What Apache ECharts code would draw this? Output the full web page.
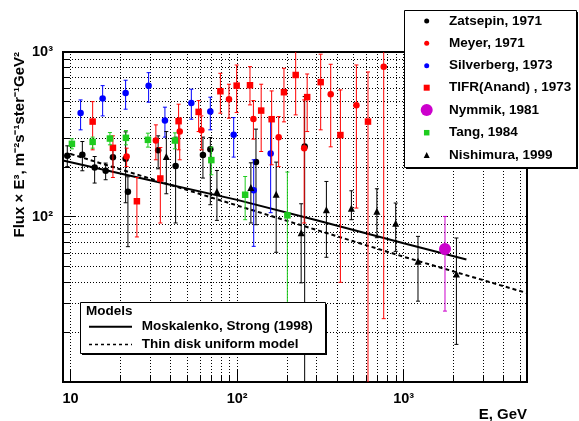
<!DOCTYPE html>
<html>
<head>
<meta charset="utf-8">
<script src="https://cdn.jsdelivr.net/npm/echarts@6/dist/echarts.min.js"></script>
<style>
html, body { margin: 0; padding: 0; background: #fff; }
#chart { width: 579px; height: 421px; }
</style>
</head>
<body>
<div id="chart"></div>
<script>
// axis ranges
const X_MIN = 9
const X_MAX = 5500
const Y_MIN = 10
const Y_MAX = 1000

// grid / tick values
const xGridValues = [10, 20, 30, 40, 50, 60, 70, 80, 90, 100, 200, 300, 400, 500, 600, 700, 800, 900, 1000, 2000, 3000, 4000, 5000]
const yGridValues = [20, 30, 40, 50, 60, 70, 80, 90, 100, 200, 300, 400, 500, 600, 700, 800, 900]
const xMajorTicks = [10, 100, 1000]
const yMajorTicks = [100, 1000]

// data rows: [E (GeV), flux x E^3, lower error, upper error]
const zatsepin = [
  [9.55, 235, 202, 270], [11.76, 238, 190.6, 286.7], [13.94, 199.6, 160.6, 232.6],
  [16.23, 190.6, 168.2, 212.2], [17.95, 230, 201.4, 262.5], [21.39, 225.3, 122, 328],
  [22.08, 142.2, 66.1, 175.3], [33.54, 254.2, 196, 310.3], [42.7, 203.4, 92, 304.8],
  [62.3, 237.2, 172.2, 304.8], [69.0, 257.8, 118.7, 303.1], [129.7, 215.1, 89.8, 340.8],
  [254.3, 267.4, 1, 536.6]
]
const meyer = [
  [21.69, 232.6, 202, 261.4], [32.5, 290.7, 222.2, 361.7], [45.2, 329.5, 222.2, 398.7],
  [60.95, 336, 255.3, 410], [89.3, 517.5, 397, 637.7], [125.2, 393.2, 296.5, 507.5],
  [177.5, 304.8, 202, 406], [252.6, 260.7, 92, 512.4], [364.5, 554.8, 266.3, 842.5],
  [519.9, 476, 113.3, 834.3], [758.6, 814.7, 24.2, 1100]
]
const silverberg = [
  [11.48, 427.6, 337.5, 512.4], [15.57, 521.9, 410, 625.4], [21.39, 564.9, 450.2, 674.2],
  [29.4, 625.4, 496.3, 749.5], [36.84, 384.1, 304.8, 463], [53.07, 491.5, 391.5, 594.9],
  [69.0, 435.4, 337.5, 532.1], [95.3, 314.7, 230.7, 400.4], [125.7, 145.3, 66.4, 222.2],
  [158.9, 242.6, 106.2, 393.2]
]
const tifr = [
  [13.56, 378.7, 255.3, 500.4], [17.95, 262.5, 173.6, 310.3], [25.0, 124.6, 75.7, 173.6],
  [34.57, 171.2, 92, 263.7], [44.5, 380.9, 255.3, 482.6], [58.7, 433.5, 329.5, 507.5],
  [79.3, 578.5, 425.8, 743], [99.3, 625.4, 429.4, 834], [119.4, 628.9, 478, 814.7],
  [139.4, 441.5, 249.4, 637.7], [161.1, 391.5, 207.2, 580.9], [191, 570.5, 377.2, 796.8],
  [224.6, 725.6, 415.8, 1100], [263.3, 532.9, 329.5, 735.8], [317.3, 656.6, 337.5, 969.8],
  [416.8, 313.8, 40.2, 589], [610.4, 378.7, 1, 756.8]
]
const nymmik = [
  [1770, 64.0, 26.9, 100.8]
]
const tang = [
  [10.18, 277.6, 258.9, 297.7], [13.56, 285.4, 261.4, 304.8], [17.22, 298.9, 273.8, 324.9],
  [21.48, 301.8, 273.8, 334.1], [29.12, 293.5, 265.2, 322.2], [42.3, 290.7, 258.9, 323.6],
  [69.98, 221.3, 180.3, 265.2], [111.7, 136.4, 96.3, 176.0], [200.2, 102.3, 23.9, 187.2]
]
const nishimura = [
  [37.56, 232.3, 138.3, 329.5], [75.6, 142.8, 95.4, 191.4], [120.9, 151.1, 92, 213.1],
  [171.5, 137.4, 61.1, 215.1], [242.3, 80.4, 39.9, 120.3], [343.4, 110.7, 57.0, 164.2],
  [485.2, 113.0, 96.3, 144.2], [690.2, 108.4, 74.9, 148.3], [895.4, 91.7, 61.9, 121.5],
  [1218.6, 53.9, 30.9, 76.3], [2072.8, 45.2, 16.9, 74.6]
]

// model curves: [E, flux x E^3]
const moskalenkoStrong = [[9, 220], [30, 167], [100, 127], [300, 95.5], [1000, 69.3], [2380, 55.2]]
const thinDisk = [[10, 241], [100, 117.4], [1000, 57.4], [5500, 34.6]]

const FONT = '"Liberation Sans", Arial, Helvetica, sans-serif'

const datasets = [
  { name: 'Zatsepin, 1971', data: zatsepin, color: '#000000', symbol: 'circle', size: 6.5 },
  { name: 'Meyer, 1971', data: meyer, color: '#ff0000', symbol: 'circle', size: 6.5 },
  { name: 'Silverberg, 1973', data: silverberg, color: '#0000ff', symbol: 'circle', size: 6.5 },
  { name: 'TIFR(Anand) , 1973', data: tifr, color: '#ff0000', symbol: 'rect', size: 6.5 },
  { name: 'Nymmik, 1981', data: nymmik, color: '#cc00cc', symbol: 'circle', size: 12 },
  { name: 'Tang, 1984', data: tang, color: '#1ecc1e', symbol: 'rect', size: 6.5 },
  { name: 'Nishimura, 1999', data: nishimura, color: '#000000', symbol: 'triangle', size: 7 }
]

function snap (v) {
  return Math.round(v - 0.5) + 0.5
}

function isPow10 (v) {
  const l = Math.log10(v)
  return Math.abs(l - Math.round(l)) < 1e-6
}

function renderXGrid (params, api) {
  const v = api.value(0)
  const bottom = api.coord([v, Y_MIN])
  const top = api.coord([v, Y_MAX])
  const x = snap(bottom[0])
  const len = xMajorTicks.indexOf(v) >= 0 ? 12 : 7
  return {
    type: 'group',
    children: [
      { type: 'line', shape: { x1: x, y1: bottom[1], x2: x, y2: top[1] }, style: { stroke: '#000', lineWidth: 1, lineDash: [1, 2] } },
      { type: 'line', shape: { x1: x, y1: bottom[1], x2: x, y2: bottom[1] - len }, style: { stroke: '#000', lineWidth: 1 } }
    ]
  }
}

function renderYGrid (params, api) {
  const v = api.value(1)
  const left = api.coord([X_MIN, v])
  const right = api.coord([X_MAX, v])
  const y = snap(left[1])
  const len = yMajorTicks.indexOf(v) >= 0 ? 12 : 7
  return {
    type: 'group',
    children: [
      { type: 'line', shape: { x1: left[0], y1: y, x2: right[0], y2: y }, style: { stroke: '#000', lineWidth: 1, lineDash: [1, 2] } },
      { type: 'line', shape: { x1: left[0], y1: y, x2: left[0] + len, y2: y }, style: { stroke: '#000', lineWidth: 1 } }
    ]
  }
}

function makeErrorRender (color) {
  return function (params, api) {
    const x = api.value(0)
    const lo = api.value(2)
    const hi = api.value(3)
    const pLo = api.coord([x, Math.max(lo, Y_MIN)])
    const pHi = api.coord([x, Math.min(hi, Y_MAX)])
    const children = [
      { type: 'line', shape: { x1: pLo[0], y1: pLo[1], x2: pHi[0], y2: pHi[1] }, style: { stroke: color, lineWidth: 1 } }
    ]
    if (lo > Y_MIN) {
      children.push({ type: 'line', shape: { x1: pLo[0] - 2, y1: pLo[1], x2: pLo[0] + 2, y2: pLo[1] }, style: { stroke: color, lineWidth: 1 } })
    }
    if (hi < Y_MAX) {
      children.push({ type: 'line', shape: { x1: pHi[0] - 2, y1: pHi[1], x2: pHi[0] + 2, y2: pHi[1] }, style: { stroke: color, lineWidth: 1 } })
    }
    return { type: 'group', children: children }
  }
}

const series = [
  {
    type: 'custom',
    name: 'xgrid',
    renderItem: renderXGrid,
    data: xGridValues.map(v => [v, Y_MIN]),
    encode: { x: 0, y: 1 },
    silent: true,
    z: 1
  },
  {
    type: 'custom',
    name: 'ygrid',
    renderItem: renderYGrid,
    data: yGridValues.map(v => [X_MIN, v]),
    encode: { x: 0, y: 1 },
    silent: true,
    z: 1
  },
  {
    type: 'line',
    name: 'Moskalenko, Strong (1998)',
    data: moskalenkoStrong,
    showSymbol: false,
    lineStyle: { color: '#000', width: 2 },
    z: 2
  },
  {
    type: 'line',
    name: 'Thin disk uniform model',
    data: thinDisk,
    showSymbol: false,
    lineStyle: { color: '#000', width: 2, type: [4, 3] },
    z: 2
  }
]

datasets.forEach(function (d, i) {
  series.push({
    type: 'custom',
    name: d.name + ' err',
    renderItem: makeErrorRender(d.color),
    data: d.data,
    encode: { x: 0, y: 1 },
    clip: true,
    z: 3 + i * 2
  })
  series.push({
    type: 'scatter',
    name: d.name,
    data: d.data.map(r => [r[0], r[1]]),
    symbol: d.symbol,
    symbolSize: d.size,
    itemStyle: { color: d.color, opacity: 1 },
    z: 4 + i * 2
  })
})

// legend (top right)
const legendX = 404
const legendY = 10
const legendW = 172
const legendH = 157
const legendRowY = [21, 43.3, 65.7, 87.7, 110, 132.7, 155]
const legendMarkerX = 426.7
const legendTextX = 449
const legendMarkerSize = [5, 5, 5, 6, 12, 5.5, 6]

function legendMarker (d, cx, cy, s) {
  if (d.symbol === 'circle') {
    return { type: 'circle', shape: { cx: cx, cy: cy, r: s / 2 }, style: { fill: d.color }, z: 102 }
  }
  if (d.symbol === 'rect') {
    return { type: 'rect', shape: { x: cx - s / 2, y: cy - s / 2, width: s, height: s }, style: { fill: d.color }, z: 102 }
  }
  return { type: 'polygon', shape: { points: [[cx, cy - s / 2], [cx + s / 2, cy + s / 2], [cx - s / 2, cy + s / 2]] }, style: { fill: d.color }, z: 102 }
}

function textEl (text, x, y, size, align, extra) {
  return Object.assign({
    type: 'text',
    x: x,
    y: y,
    z: 102,
    style: {
      text: text,
      font: 'bold ' + size + 'px ' + FONT,
      fill: '#000',
      align: align,
      verticalAlign: 'middle',
      textAlign: align,
      textVerticalAlign: 'middle'
    }
  }, extra || {})
}

const graphics = [
  { type: 'rect', shape: { x: legendX + 2, y: legendY + 2, width: legendW, height: legendH }, style: { fill: '#000' }, z: 100 },
  { type: 'rect', shape: { x: legendX + 0.5, y: legendY + 0.5, width: legendW, height: legendH }, style: { fill: '#fff', stroke: '#000', lineWidth: 1 }, z: 101 }
]
datasets.forEach(function (d, i) {
  graphics.push(legendMarker(d, legendMarkerX, legendRowY[i], legendMarkerSize[i]))
  graphics.push(textEl(d.name, legendTextX, legendRowY[i], 13.5, 'left'))
})

// models legend (bottom left)
graphics.push(
  { type: 'rect', shape: { x: 82, y: 304, width: 245, height: 51 }, style: { fill: '#000' }, z: 100 },
  { type: 'rect', shape: { x: 80.5, y: 302.5, width: 245, height: 51 }, style: { fill: '#fff', stroke: '#000', lineWidth: 1 }, z: 101 },
  textEl('Models', 86, 311.7, 13.5, 'left'),
  { type: 'line', shape: { x1: 89, y1: 326.7, x2: 132, y2: 326.7 }, style: { stroke: '#000', lineWidth: 2 }, z: 102 },
  textEl('Moskalenko, Strong (1998)', 141.7, 326.7, 13.5, 'left'),
  { type: 'line', shape: { x1: 89, y1: 344.5, x2: 132, y2: 344.5 }, style: { stroke: '#000', lineWidth: 1.5, lineDash: [3, 3] }, z: 102 },
  textEl('Thin disk uniform model', 141.7, 344.3, 13.5, 'left')
)

// axis titles
graphics.push(
  textEl('Flux \u00d7 E\u00b3, m\u207b\u00b2s\u207b\u00b9ster\u207b\u00b9GeV\u00b2', 20, 52, 15, 'right', { rotation: Math.PI / 2 }),
  textEl('E, GeV', 527, 415, 15, 'right')
)

const chart = echarts.init(document.getElementById('chart'), null, { renderer: 'canvas' })
chart.setOption({
  animation: false,
  backgroundColor: '#fff',
  grid: {
    left: 63,
    top: 52,
    width: 464,
    height: 330,
    show: true,
    borderColor: '#000',
    borderWidth: 2,
    backgroundColor: 'transparent'
  },
  xAxis: {
    type: 'log',
    logBase: 10,
    min: X_MIN,
    max: X_MAX,
    axisLine: { show: false },
    axisTick: { show: false },
    splitLine: { show: false },
    axisLabel: {
      margin: 9,
      color: '#000',
      fontFamily: FONT,
      fontWeight: 'bold',
      fontSize: 14.5,
      showMinLabel: false,
      showMaxLabel: false,
      formatter: function (v) {
        if (!isPow10(v)) return ''
        const p = Math.round(Math.log10(v))
        if (p === 1) return '10'
        if (p === 2) return '10\u00b2'
        if (p === 3) return '10\u00b3'
        return ''
      }
    }
  },
  yAxis: {
    type: 'log',
    logBase: 10,
    min: Y_MIN,
    max: Y_MAX,
    axisLine: { show: false },
    axisTick: { show: false },
    splitLine: { show: false },
    axisLabel: {
      margin: 10,
      color: '#000',
      fontFamily: FONT,
      fontWeight: 'bold',
      fontSize: 14.5,
      formatter: function (v) {
        if (!isPow10(v)) return ''
        const p = Math.round(Math.log10(v))
        if (p === 2) return '10\u00b2'
        if (p === 3) return '10\u00b3'
        return ''
      }
    }
  },
  graphic: { elements: graphics },
  series: series
})
</script>
</body>
</html>
